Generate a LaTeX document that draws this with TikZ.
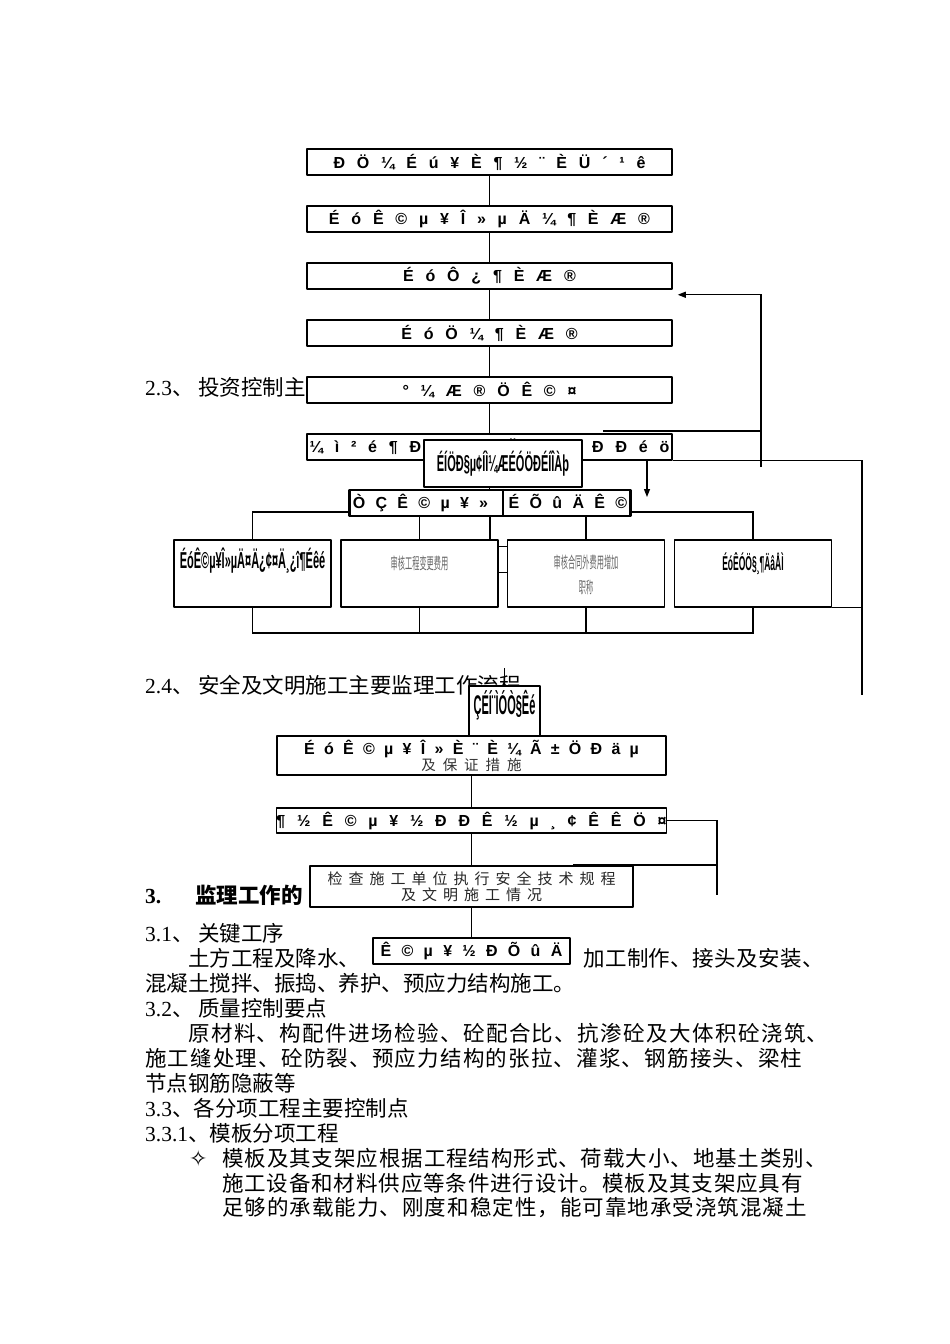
\documentclass[tikz,border=0pt]{standalone}
\usepackage{fontspec}
\usepackage{graphicx}
\setmainfont{Liberation Serif}
\newfontfamily\cjk{Noto Sans CJK SC}
\newfontfamily\cjksp[LetterSpace=40]{Noto Sans CJK SC}
\newfontfamily\garb{Liberation Sans}
\newfontfamily\symb{DejaVu Sans}
\usetikzlibrary{arrows.meta}
\pgfdeclarelayer{bg}
\pgfsetlayers{bg,main}

\newcommand{\flowfont}{\garb\bfseries\fontsize{16}{18}\selectfont\spaceskip=11.8pt\relax}
\newcommand{\tallg}[3]{\scalebox{#1}[#2]{\garb\bfseries\fontsize{10}{10}\selectfont #3}}
\newcommand{\thinzh}[1]{\scalebox{0.45}[1]{\cjk\fontsize{16}{16}\selectfont #1}}
\newcommand{\spread}[2]{{\addfontfeature{LetterSpace=#1}#2}}

\tikzset{
  flow/.style={draw, line width=1.5pt, fill=white, inner sep=0pt,
    minimum width=365pt, minimum height=26pt, font=\flowfont},
  cost/.style={flow, minimum width=157pt, minimum height=67pt},
  body/.style={anchor=west, inner sep=0pt, font=\cjk\fontsize{21.5}{25}\selectfont},
  lbl/.style={inner sep=0pt},
  link/.style={line width=1.3pt},
}

\begin{document}
\begin{tikzpicture}[x=1pt,y=-1pt,>={Triangle[length=8pt,width=6pt]},line join=round]
\useasboundingbox (0,0) rectangle (950,1344);
% page text
\node[body] (t23) at (145,387) {{\rmfamily 2.3}、 投资控制主};
\node[body] (t24) at (145,685) {{\rmfamily 2.4}、 安全及文明施工主要监理工作流程};
\node[body, font=\cjk\bfseries\fontsize{21.5}{25}\selectfont] (t3) at (145,895) {{\rmfamily\bfseries 3.}\hspace{34pt}监理工作的};
\node[body] (t31) at (145,933) {{\rmfamily 3.1}、 关键工序};
\node[body] (t31a) at (188,958) {土方工程及降水、};
\node[body] (t31b) at (583,958) {\spread{2}{加工制作、接头及安装、}};
\node[body] (t31c) at (145,983) {混凝土搅拌、振捣、养护、预应力结构施工。};
\node[body] (t32) at (145,1008) {{\rmfamily 3.2}、 质量控制要点};
\node[body] (t32a) at (188,1033) {\spread{6.6}{原材料、构配件进场检验、砼配合比、抗渗砼及大体积砼浇筑、}};
\node[body] (t32b) at (145,1058) {\spread{5.6}{施工缝处理、砼防裂、预应力结构的张拉、灌浆、钢筋接头、梁柱}};
\node[body] (t32c) at (145,1083) {节点钢筋隐蔽等};
\node[body] (t33) at (145,1108) {{\rmfamily 3.3}、各分项工程主要控制点};
\node[body] (t331) at (145,1133) {{\rmfamily 3.3.1}、模板分项工程};
\node[body] (bul) at (189,1158) {{\symb\fontsize{22}{22}\selectfont ✧}};
\node[body] (t331a) at (222,1158) {\spread{4.3}{模板及其支架应根据工程结构形式、荷载大小、地基土类别、}};
\node[body] (t331b) at (222,1183) {\spread{4}{施工设备和材料供应等条件进行设计。模板及其支架应具有}};
\node[body] (t331c) at (222,1208) {\spread{4.8}{足够的承载能力、刚度和稳定性，能可靠地承受浇筑混凝土}};

% cost flow
\node[flow] (b1) at (489.5,162) {Ð Ö ¼ É ú ¥ È ¶ ½ ¨ È Ü ´ ¹ ê};
\node[flow] (b2) at (489.5,219) {É ó Ê © µ ¥ Î » µ Ä ¼ ¶ È Æ ®};
\node[flow] (b3) at (489.5,276) {É ó Ô ¿ ¶ È Æ ®};
\node[flow] (b4) at (489.5,333) {É ó Ö ¼ ¶ È Æ ®};
\node[flow] (b5) at (489.5,390) {° ¼ Æ ® Ö Ê © ¤};
\node[flow] (b6) at (489.5,447) {¼ ì ² é ¶ Ð ¤ ¼ Æ Ö ¸ ¶ ® Ð Ð é ö};
\node[flow, minimum width=158pt, minimum height=47pt] (ov) at (503,463.5) {\tallg{1.1}{2.3}{ÉÍÖÐ§µ¢ÍÌ¼ÆÉÓÖÐÉÍÎÀþ}};
\node[flow, minimum width=281pt, line width=2.2pt] (b7) at (490,503) {\spaceskip=10.3pt Ò Ç Ê © µ ¥ » \ É Õ û Ä Ê ©};
\draw[link] ([xshift=13pt]b7.north) -- ([xshift=13pt]b7.south);

\node[cost] (cA) at (252.5,573.5) {};
\node[lbl] (cAt) at (252.5,561) {\tallg{1.1}{2.3}{ÉóÊ©µ¥Î»µÄ¤Ä¿¢¤Ä¸¿î¶Éêé}};
\node[cost] (cB) at (419.5,573.5) {};
\node[lbl, text=black!60] (cBt) at (419.5,563) {\thinzh{审核工程变更费用}};
\node[cost] (cC) at (586,573.5) {};
\node[lbl, text=black!60] (cCt1) at (586,562) {\thinzh{审核合同外费用增加}};
\node[lbl, text=black!60] (cCt2) at (586,587) {\thinzh{职称}};
\node[cost] (cD) at (753,573.5) {};
\node[lbl] (cDt) at (753,564) {\tallg{0.85}{2}{ÉóÊÓÖ§¸¶ÄâÅÌ}};

% safety flow
\node[flow, minimum width=71pt, minimum height=51pt] (s0) at (504.5,711.5) {};
\node[lbl] (s0t) at (504.5,705) {\tallg{1.1}{2.7}{ÇÉÍ¨ÌÓÒ§Êé}};
\node[flow, minimum width=389pt, minimum height=39pt, align=center] (s1) at (471.5,755.5)
  {{\spaceskip=9.3pt É ó Ê © µ ¥ Î » È ¨ È ¼ Ã ± Ö Ð ä µ}\\[-2pt]{\cjk\mdseries\fontsize{14.5}{14.5}\selectfont\addfontfeature{LetterSpace=48}\color{black!80}及保证措施}};
\node[flow, minimum width=389pt, minimum height=25pt] (s2) at (471.5,820.5) {\spaceskip=11.8pt ¶ ½ Ê © µ ¥ ½ Ð Ð Ê ½ µ ¸ ¢ Ê Ê Ö ¤};
\node[flow, minimum width=323pt, minimum height=41pt, align=center,
  font=\cjksp\fontsize{15}{16}\selectfont, text=black!85] (s3) at (471.5,886.5) {检查施工单位执行安全技术规程\\及文明施工情况};
\node[flow, minimum width=197pt] (s4) at (471.5,951) {\spaceskip=10.3pt Ê © µ ¥ ½ Ð Õ û Ä};

\begin{pgfonlayer}{bg}
\fill[white] (0,0) rectangle (950,1344);
\foreach \u/\v in {b1/b2,b2/b3,b3/b4,b4/b5,b5/b6}
  \draw[link] (\u) -- (\v);
\draw[link] (b6.south) -- (b6.south |- b7.north);
\coordinate (bus1) at (489,512);
\coordinate (bus2) at (489,633);
\draw[link] (cA.north) |- (bus1) -| (cD.north);
\draw[link] (cB.north) -- (cB.north |- bus1);
\draw[link] (cC.north) -- (cC.north |- bus1);
\draw[link] (b7.south) -- (b7.south |- cB.north);
\draw[link] (cA.south) |- (bus2) -| (cD.south);
\draw[link] (cB.south) -- (cB.south |- bus2);
\draw[link] (cC.south) -- (cC.south |- bus2);
\draw[link] ([yshift=-7pt]cB.north east) -- ([yshift=-7pt]cC.north west);
\draw[link] ([yshift=-33pt]cB.north east) -- ([yshift=-33pt]cC.north west);
% feedback lines
\coordinate (fbfoot) at (761,467);
\coordinate (fbleft) at (603,431);
\coordinate (rt) at (862,695);
\coordinate (dntip) at (647,497);
\draw[link,->] (fbfoot) |- ([xshift=5pt,yshift=-5pt]b3.south east);
\draw[link] (fbleft) -- (fbleft -| fbfoot);
\draw[link] (b6.south east) -| (rt);
\draw[link,->] (dntip |- b6.south) -- (dntip);
\draw[link] (cD.south east) -- (cD.south east -| rt);
% safety links
\coordinate (s0top) at (504.5,668);
\coordinate (loop) at (717,895);
\coordinate (loopin) at (573,865);
\draw[link] (s0top) -- (s0);
\draw[link] (s1) -- (s2);
\draw[link] (s2) -- (s3);
\draw[link] (s3) -- (s4);
\draw[link] (s2.east) -| (loop);
\draw[link] (loopin) -- (loopin -| loop);
\end{pgfonlayer}
\end{tikzpicture}
\end{document}
